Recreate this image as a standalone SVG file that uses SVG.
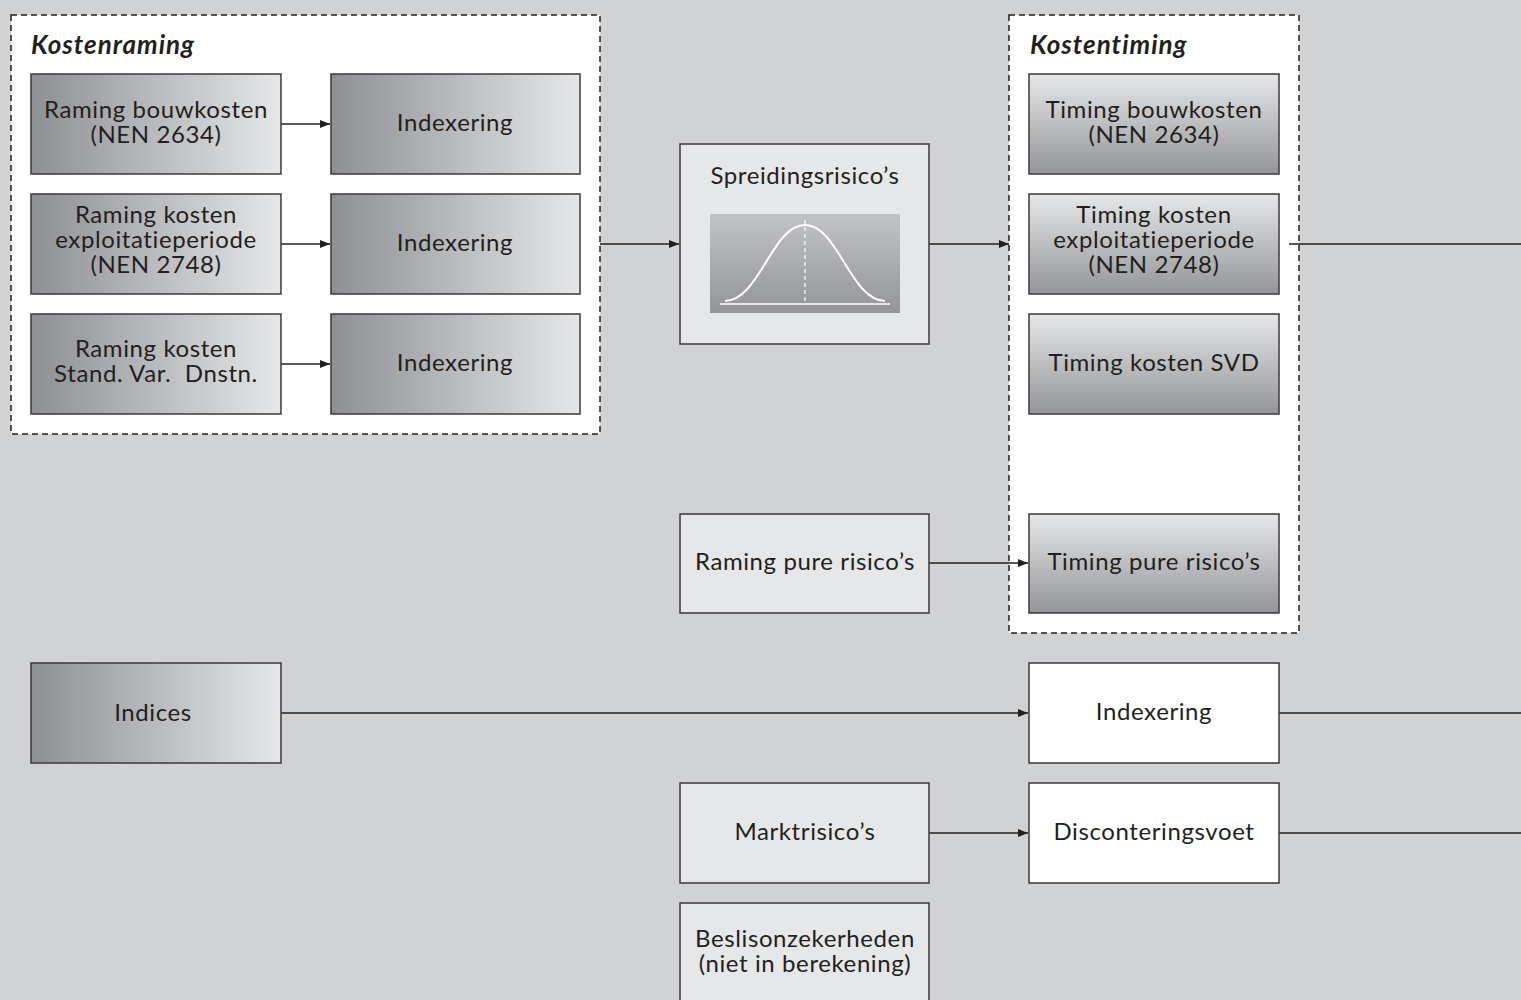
<svg xmlns="http://www.w3.org/2000/svg" width="1521" height="1000" viewBox="0 0 1521 1000">
<defs>
<linearGradient id="gh" x1="0" y1="0" x2="1" y2="0">
<stop offset="0" stop-color="#8e8f93"/>
<stop offset="1" stop-color="#e6e7e8"/>
</linearGradient>
<linearGradient id="gv" x1="0" y1="0" x2="0" y2="1">
<stop offset="0" stop-color="#e6e7e8"/>
<stop offset="1" stop-color="#939598"/>
</linearGradient>
<linearGradient id="gc" x1="0" y1="0" x2="0" y2="1">
<stop offset="0" stop-color="#c2c3c6"/>
<stop offset="1" stop-color="#939598"/>
</linearGradient>
<marker id="ah" markerWidth="10" markerHeight="8" refX="10" refY="4" orient="auto" markerUnits="userSpaceOnUse">
<path d="M0,0 L10,4 L0,8 Z" fill="#231f20"/>
</marker>
<style>
.t{font-family:Lato,"Open Sans","DejaVu Sans",sans-serif;font-size:24px;letter-spacing:0.6px;fill:#231f20;text-anchor:middle}
.h{font-family:Lato,"Open Sans","DejaVu Sans",sans-serif;font-size:26px;letter-spacing:1px;font-weight:bold;font-style:italic;fill:#231f20}
.grp{fill:#ffffff;stroke:#231f20;stroke-width:1.5;stroke-dasharray:6,4}
.bh{fill:url(#gh);stroke:#3a3a3c;stroke-width:1.5}
.bv{fill:url(#gv);stroke:#3a3a3c;stroke-width:1.5}
.bl{fill:#e6e7e8;stroke:#3a3a3c;stroke-width:1.5}
.bw{fill:#ffffff;stroke:#3a3a3c;stroke-width:1.5}
.c{stroke:#231f20;stroke-width:1.5;fill:none}
</style>
</defs>
<rect x="0" y="0" width="1521" height="1000" fill="#d1d2d4"/>

<g id="kostenraming">
<rect class="grp" x="11" y="15" width="589" height="419"/>
<text class="h" x="31" y="54">Kostenraming</text>
</g>
<g id="kostentiming">
<rect class="grp" x="1009" y="15" width="290" height="618"/>
<text class="h" x="1030" y="54">Kostentiming</text>
</g>

<g id="connectors">
<line class="c" x1="281" y1="124" x2="330" y2="124" marker-end="url(#ah)"/>
<line class="c" x1="281" y1="244" x2="330" y2="244" marker-end="url(#ah)"/>
<line class="c" x1="281" y1="364" x2="330" y2="364" marker-end="url(#ah)"/>
<line class="c" x1="600" y1="244" x2="679" y2="244" marker-end="url(#ah)"/>
<line class="c" x1="929" y1="244" x2="1009" y2="244" marker-end="url(#ah)"/>
<line class="c" x1="1289" y1="244" x2="1521" y2="244"/>
<line class="c" x1="929" y1="563" x2="1028" y2="563" marker-end="url(#ah)"/>
<line class="c" x1="281" y1="713" x2="1028" y2="713" marker-end="url(#ah)"/>
<line class="c" x1="1279" y1="713" x2="1521" y2="713"/>
<line class="c" x1="929" y1="833" x2="1028" y2="833" marker-end="url(#ah)"/>
<line class="c" x1="1279" y1="833" x2="1521" y2="833"/>
</g>

<g id="raming-bouwkosten">
<rect class="bh" x="31" y="74" width="250" height="100"/>
<text class="t" x="156" y="118">Raming bouwkosten</text>
<text class="t" x="156" y="143">(NEN 2634)</text>
</g>
<g id="indexering-1">
<rect class="bh" x="331" y="74" width="249" height="100"/>
<text class="t" x="455" y="131">Indexering</text>
</g>
<g id="raming-exploitatie">
<rect class="bh" x="31" y="194" width="250" height="100"/>
<text class="t" x="156" y="223">Raming kosten</text>
<text class="t" x="156" y="248">exploitatieperiode</text>
<text class="t" x="156" y="273">(NEN 2748)</text>
</g>
<g id="indexering-2">
<rect class="bh" x="331" y="194" width="249" height="100"/>
<text class="t" x="455" y="251">Indexering</text>
</g>
<g id="raming-svd">
<rect class="bh" x="31" y="314" width="250" height="100"/>
<text class="t" x="156" y="357">Raming kosten</text>
<text class="t" x="156" y="382" xml:space="preserve">Stand. Var.  Dnstn.</text>
</g>
<g id="indexering-3">
<rect class="bh" x="331" y="314" width="249" height="100"/>
<text class="t" x="455" y="371">Indexering</text>
</g>

<g id="spreidingsrisicos">
<rect class="bl" x="680" y="144" width="249" height="200"/>
<text class="t" x="805" y="184">Spreidingsrisico’s</text>
<rect x="710" y="214" width="190" height="99" fill="url(#gc)"/>
<line x1="720" y1="304" x2="890" y2="304" stroke="#ffffff" stroke-width="1.5"/>
<line x1="805" y1="220" x2="805" y2="302" stroke="#ffffff" stroke-width="1.2" stroke-dasharray="4,3"/>
<path d="M725,301 C760,300 772,225 805,225 C838,225 850,300 885,301" fill="none" stroke="#ffffff" stroke-width="2"/>
</g>

<g id="timing-bouwkosten">
<rect class="bv" x="1029" y="74" width="250" height="100"/>
<text class="t" x="1154" y="118">Timing bouwkosten</text>
<text class="t" x="1154" y="143">(NEN 2634)</text>
</g>
<g id="timing-exploitatie">
<rect class="bv" x="1029" y="194" width="250" height="100"/>
<text class="t" x="1154" y="223">Timing kosten</text>
<text class="t" x="1154" y="248">exploitatieperiode</text>
<text class="t" x="1154" y="273">(NEN 2748)</text>
</g>
<g id="timing-svd">
<rect class="bv" x="1029" y="314" width="250" height="100"/>
<text class="t" x="1154" y="371">Timing kosten SVD</text>
</g>
<g id="timing-pure">
<rect class="bv" x="1029" y="514" width="250" height="99"/>
<text class="t" x="1154" y="570">Timing pure risico’s</text>
</g>

<g id="raming-pure">
<rect class="bl" x="680" y="514" width="249" height="99"/>
<text class="t" x="805" y="570">Raming pure risico’s</text>
</g>

<g id="indices">
<rect class="bh" x="31" y="663" width="250" height="100"/>
<text class="t" x="153" y="721">Indices</text>
</g>
<g id="indexering-4">
<rect class="bw" x="1029" y="663" width="250" height="100"/>
<text class="t" x="1154" y="720">Indexering</text>
</g>
<g id="marktrisicos">
<rect class="bl" x="680" y="783" width="249" height="100"/>
<text class="t" x="805" y="840">Marktrisico’s</text>
</g>
<g id="disconteringsvoet">
<rect class="bw" x="1029" y="783" width="250" height="100"/>
<text class="t" x="1154" y="840">Disconteringsvoet</text>
</g>
<g id="beslisonzekerheden">
<rect class="bl" x="680" y="903" width="249" height="110"/>
<text class="t" x="805" y="947">Beslisonzekerheden</text>
<text class="t" x="805" y="972">(niet in berekening)</text>
</g>
</svg>
